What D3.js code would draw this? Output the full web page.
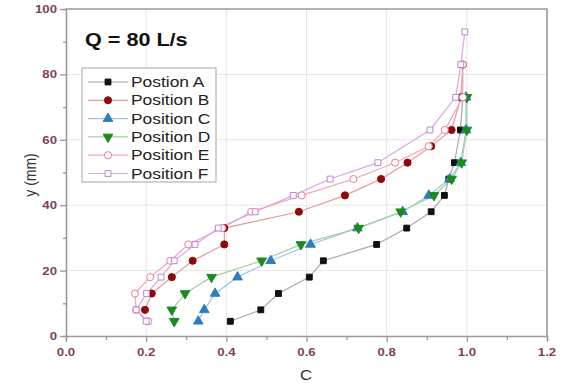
<!DOCTYPE html>
<html>
<head>
<meta charset="utf-8">
<script src="https://cdn.jsdelivr.net/npm/d3@7"></script>
<style>
  body { margin: 0; background: #fff; }
  svg { font-family: "Liberation Sans", Arial, sans-serif; }
</style>
</head>
<body>
<div id="chart"></div>
<script>
// Värden: [C, y (mm)]
var posA = [[0.41, 4.5], [0.486, 8], [0.53, 13], [0.607, 18], [0.642, 23], [0.775, 28], [0.85, 33],
            [0.911, 38], [0.944, 43], [0.955, 48], [0.969, 53], [0.984, 63], [0.99, 73]];
var posB = [[0.197, 8], [0.214, 13], [0.264, 18], [0.316, 23], [0.395, 28], [0.395, 33], [0.581, 38],
            [0.696, 43], [0.786, 48], [0.852, 53], [0.911, 58], [0.962, 63], [0.985, 73], [0.99, 83]];
var posC = [[0.33, 4.5], [0.345, 8], [0.372, 13], [0.428, 18], [0.511, 23], [0.61, 28], [0.727, 33],
            [0.84, 38], [0.905, 43], [0.957, 48], [0.985, 53], [0.998, 63], [0.998, 73]];
var posD = [[0.27, 4.5], [0.264, 8], [0.297, 13], [0.363, 18], [0.488, 23], [0.586, 28], [0.73, 33],
            [0.835, 38], [0.918, 43], [0.962, 48], [0.987, 53], [1.0, 63], [1.0, 73]];
var posE = [[0.205, 4.5], [0.175, 8], [0.172, 13], [0.21, 18], [0.26, 23], [0.305, 28], [0.39, 33],
            [0.462, 38], [0.588, 43], [0.717, 48], [0.821, 53], [0.905, 58], [0.945, 63], [0.99, 73], [0.99, 83]];
var posF = [[0.2, 4.5], [0.175, 8], [0.201, 13], [0.237, 18], [0.27, 23], [0.322, 28], [0.38, 33],
            [0.472, 38], [0.567, 43], [0.659, 48], [0.778, 53], [0.908, 63], [0.972, 73], [0.985, 83], [0.995, 93]];

var seriesNames = ["Postion A", "Position B", "Position C", "Position D", "Position E", "Position F"];
var xTicks = [0, 0.2, 0.4, 0.6, 0.8, 1.0, 1.2];
var yTicks = [0, 20, 40, 60, 80, 100];
var title = "Q = 80 L/s";

var width = 563, height = 388;
var sx = 1.2; // bilden är utdragen på bredden, texten också

// stil för varje serie
var styles = [
    {data: posA, line: "#a8a8a8", fill: "#111", stroke: "#111", sym: d3.symbolSquare, size: 34, rot: 0},
    {data: posB, line: "#e59a9a", fill: "#8e0a0a", stroke: "#8e0a0a", sym: d3.symbolCircle, size: 40, rot: 0},
    {data: posC, line: "#9ec6e6", fill: "#2f7cc4", stroke: "#2f7cc4", sym: d3.symbolTriangle, size: 40, rot: 0},
    {data: posD, line: "#9fd49f", fill: "#1d8a1d", stroke: "#1d8a1d", sym: d3.symbolTriangle, size: 40, rot: 180},
    {data: posE, line: "#f0a4bc", fill: "#fff", stroke: "#e77d9e", sym: d3.symbolCircle, size: 40, rot: 0},
    {data: posF, line: "#d9a6e3", fill: "#fff", stroke: "#c283d2", sym: d3.symbolSquare, size: 34, rot: 0}
];

var x = d3.scaleLinear().domain([0, 1.2]).range([66, 547]);
var y = d3.scaleLinear().domain([0, 100]).range([336, 9]);

var svg = d3.select("#chart").append("svg")
    .attr("width", width)
    .attr("height", height);

// rutnät
svg.append("g")
    .selectAll("line.gx")
    .data(xTicks.slice(1, -1))
    .enter().append("line")
        .attr("x1", d => x(d)).attr("x2", d => x(d))
        .attr("y1", y(0)).attr("y2", y(100))
        .attr("stroke", "#e6e6e6").attr("stroke-width", 1);
svg.append("g")
    .selectAll("line.gy")
    .data(yTicks.slice(1, -1))
    .enter().append("line")
        .attr("x1", x(0)).attr("x2", x(1.2))
        .attr("y1", d => y(d)).attr("y2", d => y(d))
        .attr("stroke", "#e6e6e6").attr("stroke-width", 1);

// axlar
var xAxis = svg.append("g")
    .attr("transform", "translate(0," + y(0) + ")")
    .call(d3.axisBottom(x).tickValues(d3.range(0, 1.21, 0.1)).tickSize(4).tickFormat(""));
var yAxis = svg.append("g")
    .attr("transform", "translate(" + x(0) + ",0)")
    .call(d3.axisLeft(y).tickValues(d3.range(0, 101, 10)).tickSize(3).tickFormat(""));
[xAxis, yAxis].forEach(function(a) {
    a.select(".domain").attr("stroke", "#9a9a9a").attr("stroke-width", 1.6);
    a.selectAll(".tick line").attr("stroke", "#9a9a9a").attr("stroke-width", 1.3);
});
// längre streck vid huvudmarkeringar
xAxis.selectAll(".tick line").attr("y2", (d, i) => i % 2 == 0 ? 6 : 4);
yAxis.selectAll(".tick line").attr("x2", (d, i) => i % 2 == 0 ? -6 : -3);

// ram uppe och till höger
svg.append("path")
    .attr("d", "M" + x(0) + "," + y(100) + "H" + x(1.2) + "V" + y(0))
    .attr("fill", "none").attr("stroke", "#9a9a9a").attr("stroke-width", 1.6);

// ticketiketter
svg.append("g").selectAll("text")
    .data(xTicks)
    .enter().append("text")
        .attr("transform", d => "translate(" + x(d) + ",356) scale(" + sx + ",1)")
        .attr("text-anchor", "middle")
        .attr("font-size", 11).attr("font-weight", "bold")
        .attr("fill", "#7d3f5e")
        .text(d => d.toFixed(1));
svg.append("g").selectAll("text")
    .data(yTicks)
    .enter().append("text")
        .attr("transform", d => "translate(57," + (y(d) + 4) + ") scale(" + sx + ",1)")
        .attr("text-anchor", "end")
        .attr("font-size", 11).attr("font-weight", "bold")
        .attr("fill", "#7d3f5e")
        .text(d => d);

// axeltitlar
svg.append("text")
    .attr("transform", "translate(306,380) scale(" + sx + ",1)")
    .attr("text-anchor", "middle").attr("font-size", 14).attr("fill", "#333")
    .text("C");
svg.append("text")
    .attr("transform", "translate(36,175) rotate(-90) scale(1," + sx + ")")
    .attr("text-anchor", "middle").attr("font-size", 14).attr("fill", "#333")
    .text("y (mm)");

// linjer och markörer
var lineGen = d3.line().x(d => x(d[0])).y(d => y(d[1]));
styles.forEach(function(s) {
    svg.append("path")
        .datum(s.data)
        .attr("d", lineGen)
        .attr("fill", "none")
        .attr("stroke", s.line)
        .attr("stroke-width", 1.2);
});
styles.forEach(function(s) {
    svg.append("g").selectAll("path")
        .data(s.data)
        .enter().append("path")
            .attr("d", d3.symbol().type(s.sym).size(s.size))
            .attr("transform", d => "translate(" + x(d[0]) + "," + y(d[1]) + ") rotate(" + s.rot + ")")
            .attr("fill", s.fill)
            .attr("stroke", s.stroke)
            .attr("stroke-width", 1);
});

// rubrik
svg.append("text")
    .attr("transform", "translate(85,46) scale(" + sx + ",1)")
    .attr("font-size", 18).attr("font-weight", "bold").attr("fill", "#111")
    .text(title);

// legend
var legend = svg.append("g");
legend.append("rect")
    .attr("x", 82).attr("y", 68).attr("width", 134).attr("height", 114)
    .attr("fill", "#fff").attr("stroke", "#b5b5b5").attr("stroke-width", 1.2);
styles.forEach(function(s, i) {
    var cy = 82 + i * 18.3;
    legend.append("line")
        .attr("x1", 88).attr("x2", 128).attr("y1", cy).attr("y2", cy)
        .attr("stroke", s.line).attr("stroke-width", 1.2);
    legend.append("path")
        .attr("d", d3.symbol().type(s.sym).size(s.size))
        .attr("transform", "translate(108," + cy + ") rotate(" + s.rot + ")")
        .attr("fill", s.fill).attr("stroke", s.stroke).attr("stroke-width", 1);
    legend.append("text")
        .attr("transform", "translate(131," + (cy + 5) + ") scale(" + sx + ",1)")
        .attr("font-size", 14.5).attr("fill", "#222")
        .text(seriesNames[i]);
});
</script>
</body>
</html>
